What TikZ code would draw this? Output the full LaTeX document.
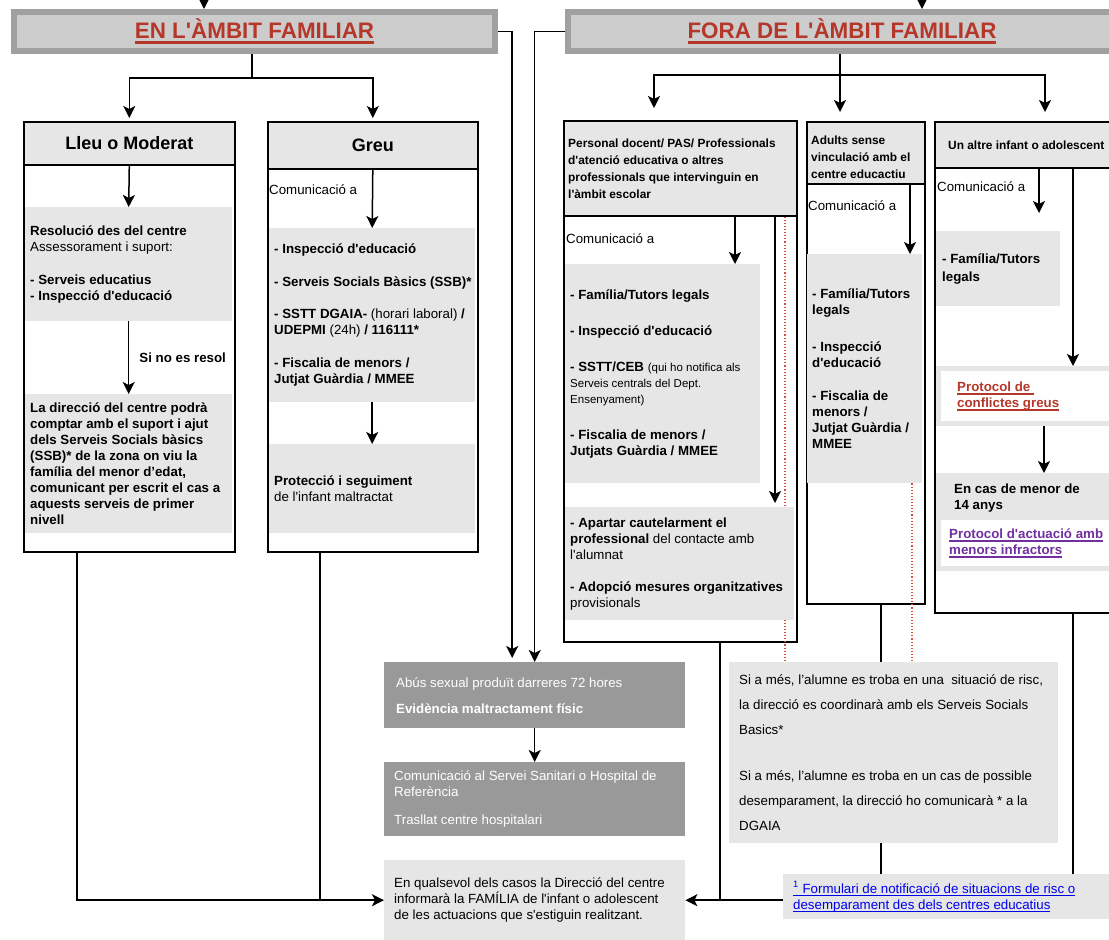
\documentclass[tikz,border=0pt]{standalone}
\usepackage{fontspec}
\setmainfont{Liberation Sans}[Ligatures=TeXOff]
\usetikzlibrary{arrows.meta,positioning}

\definecolor{boxgray}{HTML}{E6E6E6}
\definecolor{dkgray}{HTML}{999999}
\definecolor{bangray}{HTML}{CCCCCC}
\definecolor{banedge}{HTML}{A0A0A0}
\definecolor{titred}{HTML}{B5372A}
\definecolor{linkpur}{HTML}{7030A0}
\definecolor{linkblue}{HTML}{0000EE}
\definecolor{dotred}{HTML}{D0503C}

\newcommand\fbody{\fontsize{13.3}{16}\selectfont}
\newcommand\fsmall{\fontsize{11.9}{17}\selectfont}
\newcommand\fnote{\fontsize{11.5}{16}\selectfont}
\newcommand\ftit{\fontsize{18}{21}\selectfont\bfseries}
\newcommand\fban{\fontsize{22.4}{26}\selectfont\bfseries}
% underline: thickness, depth, text
\newsavebox\ulbox
\newcommand\ulw[3]{\sbox\ulbox{#3}\rlap{\rule[-#2]{\wd\ulbox}{#1}}\usebox\ulbox}

\tikzset{
  sz/.style 2 args={minimum width=#1pt, minimum height=#2pt, anchor=north west},
  frame/.style={draw=black, line width=1.6pt, fill=white, inner sep=0pt},
  hdr/.style={frame, fill=boxgray},
  banner/.style={draw=banedge, line width=6pt, fill=bangray, inner sep=0pt,
    font=\fban, text=titred},
  blk/.style={fill=boxgray, inner sep=0pt},
  dblk/.style={fill=dkgray, inner sep=0pt},
  wblk/.style={fill=white, inner sep=0pt},
  txt/.style={font=\fbody, align=left, inner sep=0pt},
  wtxt/.style={txt, text=white},
  conn/.style={line width=1.5pt},
  arr/.style={conn, -{Stealth[length=12pt,width=12pt,inset=3pt]}},
  dotline/.style={draw=dotred, line width=1.1pt, dotted},
}

\begin{document}
\begin{tikzpicture}[x=1pt, y=-1pt]
\useasboundingbox (0,0) rectangle (1109,940);

% banners
\node[banner, sz={481}{39}] (lft) at (11,9) {\ulw{2.5pt}{5pt}{EN L'ÀMBIT FAMILIAR}};
\node[banner, sz={548}{39}] (rgt) at (565,9) {\ulw{2.5pt}{5pt}{FORA DE L'ÀMBIT FAMILIAR}};
\coordinate (topL) at (204,-14);
\coordinate (topR) at (922,-14);
\draw[arr] (topL) -- (topL |- lft.north);
\draw[arr] (topR) -- (topR |- rgt.north);

% frames
\node[frame, sz={211}{430}] (lleu) at (23,121) {};
\node[hdr, sz={211}{43}, font=\ftit] (lleuH) at (23,121) {Lleu o Moderat};
\node[frame, sz={210}{430}] (greu) at (267,121) {};
\node[hdr, sz={210}{47}, font=\ftit] (greuH) at (267,121) {Greu};
\node[frame, sz={233}{521}] (pers) at (563,120) {};
\node[hdr, sz={233}{95}] (persH) at (563,120) {};
\node[frame, sz={118}{482}] (adu) at (806,121) {};
\node[hdr, sz={118}{62}] (aduH) at (806,121) {};
\node[frame, sz={184}{491}] (alt) at (934,121) {};
\node[hdr, sz={184}{46}] (altH) at (934,121) {};

% lower boxes
\node[dblk, sz={301}{66}] (abus) at (384,662) {};
\node[dblk, sz={301}{74}] (hosp) at (384,762) {};
\node[blk, sz={301}{80}] (fin) at (384,860) {};
\node[blk, sz={329}{181}] (sia) at (729,662) {};
\node[blk, sz={335}{45}] (form) at (783,874) {};

% dotted guide lines
\coordinate (xD1) at (785,0);
\coordinate (xD2) at (912,0);
\draw[dotline] (persH.south -| xD1) -- (sia.north -| xD1);

% Lleu o Moderat
\node[blk, sz={207}{114}] (res) at (25,207) {};
\node[txt, right=5pt of res.west] (resT) {\textbf{Resolució des del centre}\\Assessorament i suport:\\[17pt]\textbf{- Serveis educatius}\\\textbf{- Inspecció d'educació}};
\node[blk, sz={207}{139}] (dir) at (25,394) {};
\node[txt, font=\fbody\bfseries, right=5pt of dir.west] (dirT) {La direcció del centre podrà\\comptar amb el suport i ajut\\dels Serveis Socials bàsics\\(SSB)* de la zona on viu la\\família del menor d’edat,\\comunicant per escrit el cas a\\aquests serveis de primer\\nivell};

% Greu
\node[txt, anchor=west] (greuC) at (269,190) {Comunicació a};
\node[blk, sz={206}{174}] (insp) at (269,228) {};
\node[txt, font=\fbody\bfseries, right=5pt of insp.west] (inspT) {- Inspecció d'educació\\[17pt]- Serveis Socials Bàsics (SSB)*\\[16pt]- SSTT DGAIA- {\mdseries(horari laboral)} /\\UDEPMI {\mdseries(24h)} / 116111*\\[17pt]- Fiscalia de menors /\\Jutjat Guàrdia / MMEE};
\node[blk, sz={206}{89}] (prot) at (269,444) {};
\node[txt, right=5pt of prot.west] (protT) {\textbf{Protecció i seguiment}\\de l'infant maltractat};

% Personal docent
\node[txt, font=\fsmall\bfseries, right=5pt of persH.west] (persHT) {Personal docent/ PAS/ Professionals\\d'atenció educativa o altres\\professionals que intervinguin en\\l'àmbit escolar};
\node[txt, anchor=west] (persC) at (566,239) {Comunicació a};
\node[blk, sz={195}{219}] (famP) at (565,264) {};
\node[txt, right=5pt of famP.west] (famPT) {\textbf{- Família/Tutors legals}\\[20pt]\textbf{- Inspecció d'educació}\\[20pt]\textbf{- SSTT/CEB} {\fnote(qui ho notifica als}\\{\fnote Serveis centrals del Dept.}\\{\fnote Ensenyament)}\\[20pt]\textbf{- Fiscalia de menors /}\\\textbf{Jutjats Guàrdia / MMEE}};
\node[blk, sz={229}{113}] (apar) at (565,507) {};
\node[txt, right=5pt of apar.west] (aparT) {\textbf{- Apartar cautelarment el}\\\textbf{professional} del contacte amb\\l'alumnat\\[16pt]\textbf{- Adopció mesures organitzatives}\\provisionals};

% Adults
\node[txt, font=\fsmall\bfseries, right=5pt of aduH.west, yshift=-4pt] (aduHT) {Adults sense\\vinculació amb el\\centre educactiu};
\node[txt, anchor=west] (aduC) at (808,206) {Comunicació a};
\node[blk, sz={115}{229}] (famA) at (807,254) {};
\node[txt, font=\fbody\bfseries, right=5pt of famA.west] (famAT) {- Família/Tutors\\legals\\[21pt]- Inspecció\\d'educació\\[17pt]- Fiscalia de\\menors /\\Jutjat Guàrdia /\\MMEE};

% Un altre infant
\node[txt, font=\fsmall\bfseries, right=14pt of altH.west] (altHT) {Un altre infant o adolescent};
\node[txt, anchor=west] (altC) at (937,187) {Comunicació a};
\node[blk, sz={124}{75}] (famU) at (936,231) {};
\node[txt, font=\fbody\bfseries, right=6pt of famU.west] (famUT) {- Família/Tutors\\[2pt]legals};
\node[blk, sz={182}{60}] (conf) at (936,366) {};
\node[wblk, sz={177}{50}] (confW) at (941,371) {};
\node[txt, font=\fbody\bfseries, text=titred, right=16pt of confW.west] (confT) {\ulw{1.3pt}{3pt}{Protocol de\ }\\\ulw{1.3pt}{3pt}{conflictes greus}};
\node[blk, sz={182}{98}] (men) at (936,473) {};
\node[wblk, sz={177}{46}] (menW) at (941,520) {};
\node[txt, font=\fbody\bfseries, anchor=west] (menT) at (954,498) {En cas de menor de\\14 anys};
\node[txt, font=\fbody\bfseries, text=linkpur, right=8pt of menW.west] (menL) {\ulw{1.3pt}{3pt}{Protocol d'actuació amb}\\\ulw{1.3pt}{3pt}{menors infractors}};

% lower texts
\node[wtxt, right=12pt of abus.west] (abusT) {Abús sexual produït darreres 72 hores\\[10pt]\textbf{Evidència maltractament físic}};
\node[wtxt, right=10pt of hosp.west] (hospT) {Comunicació al Servei Sanitari o Hospital de\\Referència\\[12pt]Trasllat centre hospitalari};
\node[txt, right=10pt of fin.west] (finT) {En qualsevol dels casos la Direcció del centre\\informarà la FAMÍLIA de l'infant o adolescent\\de les actuacions que s'estiguin realitzant.};
\node[txt, font=\fontsize{13.3}{25}\selectfont, right=10pt of sia.west] (siaT) {Si a més, l’alumne es troba en una \ situació de risc,\\la direcció es coordinarà amb els Serveis Socials\\Basics*\\[21pt]Si a més, l’alumne es troba en un cas de possible\\desemparament, la direcció ho comunicarà * a la\\DGAIA};
\node[txt, text=linkblue, right=10pt of form.west] (formT) {\ulw{1pt}{2.5pt}{\textsuperscript{1} Formulari de notificació de situacions de risc o}\\\ulw{1pt}{2.5pt}{desemparament des dels centres educatius}};

% left tree
\coordinate (lsplit) at (252,78);
\draw[conn] (lft.south -| lsplit) -- (lsplit);
\draw[arr, shorten >=3pt] (lsplit) -| (lleuH.north);
\draw[arr, shorten >=3pt] (lsplit) -| (greuH.north);
\draw[arr] (lleuH.south) -- (res.north);
\draw[arr] (res.south) -- node[txt, font=\fbody\bfseries, right=10pt] (sino) {Si no es resol} (dir.north);
\draw[arr] (greuH.south) -- (insp.north);
\draw[arr] (insp.south) -- (prot.north);

% right tree
\coordinate (rsplit) at (840,75);
\coordinate (xP) at (654,0);
\coordinate (xU) at (1045,0);
\draw[conn] (rgt.south -| rsplit) -- (rsplit);
\draw[arr, shorten >=12pt] (rsplit) -| (persH.north -| xP);
\draw[arr, shorten >=9pt] (rsplit) -- (aduH.north -| rsplit);
\draw[arr, shorten >=9pt] (rsplit) -| (altH.north -| xU);

% inside right columns
\coordinate (xP1) at (735,0);
\coordinate (xP2) at (775,0);
\coordinate (xA) at (910,0);
\coordinate (xU1) at (1039,0);
\coordinate (xU2) at (1073,0);
\coordinate (xU3) at (1044,0);
\draw[arr] (persH.south -| xP1) -- (famP.north -| xP1);
\draw[arr, shorten >=4pt] (persH.south -| xP2) -- (apar.north -| xP2);
\draw[arr] (aduH.south -| xA) -- (famA.north -| xA);
\draw[arr, shorten >=18pt] (altH.south -| xU1) -- (famU.north -| xU1);
\draw[arr] (altH.south -| xU2) -- (conf.north -| xU2);
\draw[arr] (conf.south -| xU3) -- (men.north -| xU3);
\draw[dotline] (famA.south -| xD2) -- (sia.north -| xD2);

% urgent path
\draw[arr, shorten >=4pt] (lft.east) -| ([xshift=-22.5pt]abus.north);
\draw[arr] (rgt.west) -| (abus.north);
\draw[arr] (abus.south) -- (hosp.north);

% to the family box
\coordinate (xL) at (77,0);
\coordinate (xG) at (320,0);
\coordinate (xR) at (720,0);
\coordinate (xS) at (881,0);
\draw[arr] (lleu.south -| xL) |- (fin.west);
\draw[conn] (greu.south -| xG) -- (fin.west -| xG);
\draw[arr] (form.west |- fin.east) -- (fin.east);
\draw[conn] (pers.south -| xR) -- (fin.east -| xR);
\draw[conn] (adu.south -| xS) -- (sia.north -| xS);
\draw[conn] (sia.south -| xS) -- (form.north -| xS);
\draw[conn] (alt.south -| xU2) -- (form.north -| xU2);
\end{tikzpicture}
\end{document}
